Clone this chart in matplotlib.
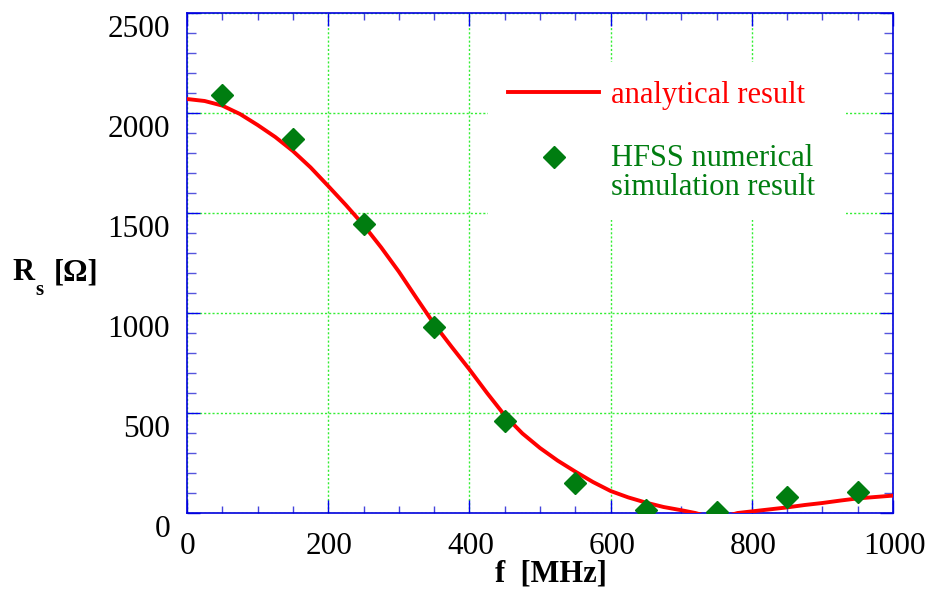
import matplotlib
matplotlib.use("Agg")
import matplotlib.pyplot as plt
from matplotlib.patches import Rectangle
from matplotlib.transforms import offset_copy
from matplotlib.ticker import MultipleLocator

# analytical curve
f_curve = [0, 25, 50, 75, 100, 125, 150, 175, 200, 225, 250, 275, 300, 325, 350,
           375, 400, 425, 450, 475, 500, 525, 550, 575, 600, 625, 650, 675, 700,
           720, 740, 760, 780, 800, 825, 850, 875, 900, 925, 950, 975, 1000]
rs_curve = [2070, 2060, 2037, 1995, 1940, 1880, 1810, 1728, 1635, 1540, 1440, 1328,
            1207, 1075, 945, 830, 718, 600, 488, 398, 325, 262, 207, 155, 110,
            78, 52, 30, 14, 0, -20, -20, 0, 8, 18, 28, 40, 50, 62, 73, 80, 87]

# HFSS points
f_hfss = [50, 150, 250, 350, 450, 550, 650, 750, 850, 950]
rs_hfss = [2091, 1868, 1445, 928, 462, 149, 15, 7, 78, 107]

x_ticks = [0, 200, 400, 600, 800, 1000]
y_ticks = [0, 500, 1000, 1500, 2000, 2500]

plt.rcParams['font.family'] = ['Liberation Serif', 'DejaVu Serif']
FS = 22.5
LFS = 22

fig = plt.figure(figsize=(9.3, 5.92), dpi=100)
ax = fig.add_axes([187/930, 1 - 513/592, 706/930, 500/592])

ax.plot(f_curve, rs_curve, color='#ff0000', linewidth=2.8, label='analytical result', zorder=3)
ax.plot(f_hfss, rs_hfss, linestyle='none', marker='D', markersize=11,
        color='#007d10', label='HFSS numerical\nsimulation result', zorder=4)

ax.set_xlim(0, 1000)
ax.set_ylim(0, 2500)
ax.xaxis.set_major_locator(MultipleLocator(200))
ax.xaxis.set_minor_locator(MultipleLocator(50))
ax.yaxis.set_major_locator(MultipleLocator(500))
ax.yaxis.set_minor_locator(MultipleLocator(100))

ax.grid(True, which='major', color='#33ee33', linestyle=(0, (1.5, 1.5)), linewidth=1.0)
ax.set_axisbelow(True)

for s in ax.spines.values():
    s.set_color('#0000dd')
    s.set_linewidth(1.2)

ax.tick_params(which='both', direction='in', top=True, right=True,
               labelbottom=False, labelleft=False)
ax.tick_params(which='major', length=9.5, width=1.0, color='#0000ee')
ax.tick_params(axis='x', which='minor', length=5, width=1.0, color='#4444dd')
ax.tick_params(axis='y', which='minor', length=6.5, width=1.0, color='#5555dd')

# tick labels, placed like the original (y labels sit below their grid line)
ytr = offset_copy(ax.get_yaxis_transform(), fig, x=-17*0.72, y=-24*0.72, units='points')
for v in y_ticks:
    ax.text(0, v, str(v), transform=ytr, ha='right', va='baseline', fontsize=FS)
xtr = offset_copy(ax.get_xaxis_transform(), fig, x=1*0.72, y=-41*0.72, units='points')
for v in x_ticks:
    ax.text(v, 0, str(v), transform=xtr, ha='center', va='baseline', fontsize=FS)

# axis labels
fig.text(551/930, 1 - 581/592, 'f  [MHz]', ha='center', va='baseline',
         fontsize=LFS, fontweight='bold')
fig.text(12/930, 1 - 280/592, 'R', ha='left', va='baseline', fontsize=LFS, fontweight='bold')
fig.text(35/930, 1 - 295/592, 's', ha='left', va='baseline', fontsize=15, fontweight='bold')
fig.text(54/930, 1 - 280/592, '[Ω]', ha='left', va='baseline', fontsize=LFS, fontweight='bold')

# white area behind the legend
ax.add_patch(Rectangle(((488-187)/706, (513-220)/500), (846-488)/706, (220-62)/500,
                       transform=ax.transAxes, facecolor='white', edgecolor='none', zorder=2))

leg = ax.legend(loc='upper left', bbox_to_anchor=((491-187)/706, (513-64)/500),
                borderaxespad=0, fontsize=LFS, frameon=False,
                handlelength=3.0, handletextpad=0.39, borderpad=0.55,
                labelspacing=1.12)
leg.set_zorder(10)
for t, c in zip(leg.get_texts(), ['#ff0000', '#007d10']):
    t.set_color(c)
    t.set_linespacing(1.0)
# put the diamond next to the first line of its two-line label
h = leg.legend_handles[1]
h.set_ydata(h.get_ydata() + 11.5)

fig.savefig('out.png', dpi=100)
